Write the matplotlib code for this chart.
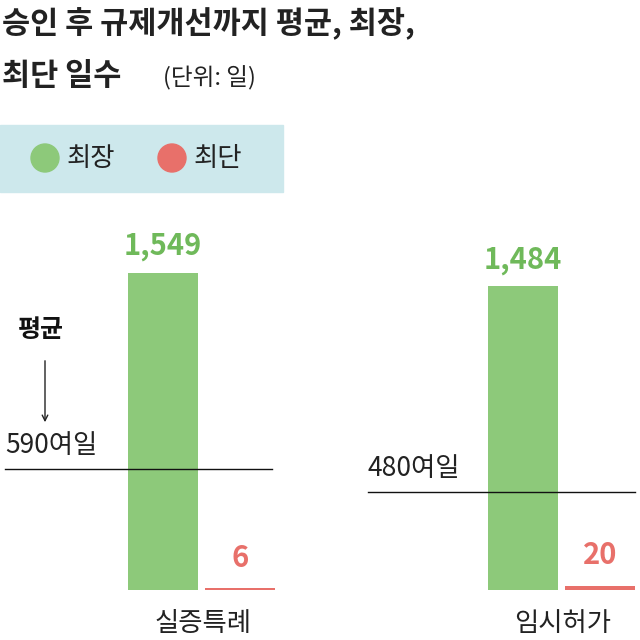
import matplotlib
matplotlib.use("Agg")
import matplotlib.pyplot as plt
from matplotlib.patches import Rectangle, Circle

plt.rcParams['font.family'] = ['Noto Sans CJK KR', 'DejaVu Sans']

categories = ["실증특례", "임시허가"]
longest = [1549, 1484]
shortest = [6, 20]
average = [590, 480]
average_labels = ["590여일", "480여일"]
value_labels_long = ["1,549", "1,484"]
value_labels_short = ["6", "20"]

GREEN = "#8dc97a"
GREEN_T = "#6fb95a"
RED = "#e8706a"

fig = plt.figure(figsize=(6.4, 6.4), dpi=100)
bg = fig.add_axes([0, 0, 1, 1])
bg.set_xlim(0, 640); bg.set_ylim(640, 0); bg.axis('off')

bg.text(2, 24, "승인 후 규제개선까지 평균, 최장,", fontsize=22, fontweight='bold', va='center', color='#222')
bg.text(2, 76, "최단 일수", fontsize=22, fontweight='bold', va='center', color='#222')
bg.text(163, 78, "(단위: 일)", fontsize=17, va='center', color='#222')

bg.add_patch(Rectangle((0, 125), 283, 67, color='#cde8ec'))
bg.add_patch(Circle((45, 158), 14, color=GREEN))
bg.text(67, 158, "최장", fontsize=19, va='center', color='#222')
bg.add_patch(Circle((172, 158), 14, color=RED))
bg.text(194, 158, "최단", fontsize=19, va='center', color='#222')
bg.text(18, 330, "평균", fontsize=18, fontweight='bold', va='center', color='#111')
bg.annotate("", xy=(45, 425), xytext=(45, 358),
            arrowprops=dict(arrowstyle='->', color='#222', lw=1))

scale = 317 / 1549.0
base_px = 590
ax = fig.add_axes([0, 0, 1, 1])
ax.patch.set_alpha(0)
ax.axis('off')
ax.set_xlim(0, 640)
ax.set_ylim(-(640 - base_px) / scale, base_px / scale)

for i, cat in enumerate(categories):
    c = 163 + 360 * i
    ax.bar(c, longest[i], width=70, color=GREEN)
    ax.bar(c + 77, max(shortest[i], 9), width=70, color=RED, linewidth=0)
    ax.text(c, longest[i] + 130, value_labels_long[i], ha='center', va='center',
            fontsize=21, fontweight='bold', color=GREEN_T)
    ax.text(c + 77, shortest[i] + 150, value_labels_short[i], ha='center', va='center',
            fontsize=21, fontweight='bold', color=RED)
    x0 = 5 + 363 * i
    ax.plot([x0, x0 + 267], [average[i], average[i]], color='#111', lw=1)
    ax.text(x0, average[i] + 115, average_labels[i], fontsize=19, va='center', color='#222')
    ax.text(c + 40, -165, cat, ha='center', va='center', fontsize=19, color='#222')

fig.savefig("out.png", dpi=100)
